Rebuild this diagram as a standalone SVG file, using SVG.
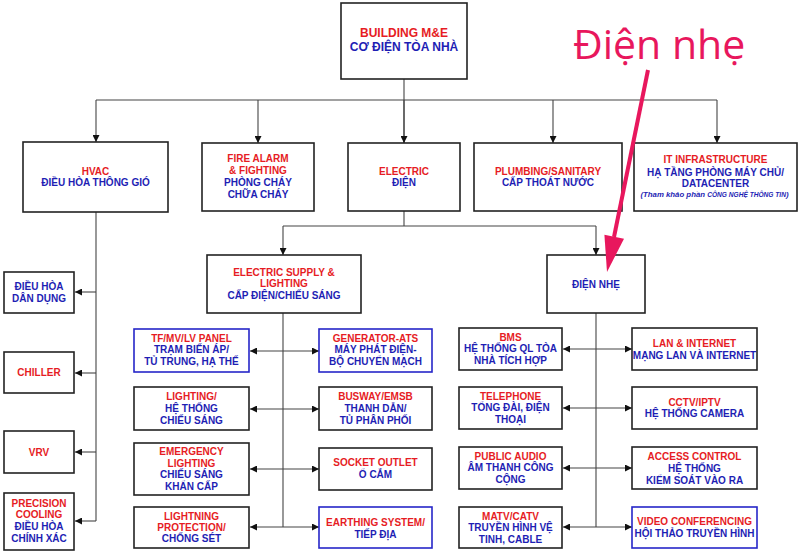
<svg xmlns="http://www.w3.org/2000/svg" width="800" height="553" viewBox="0 0 800 553">
<defs>
<style>
.box{fill:#fff;stroke:#222;stroke-width:1.6}
.bb{fill:#fff;stroke:#2626c8;stroke-width:1.6}
text{font-family:"Liberation Sans",Arial,sans-serif;font-weight:bold;font-size:10px;text-anchor:middle}
.r{fill:#e61c24}
.b{fill:#1e1eb4}
.big{font-size:12px}
.note{font-style:italic;font-size:7.8px}
.c{fill:none;stroke:#444;stroke-width:1.1}
</style>
<marker id="a" viewBox="0 0 10 10" refX="10" refY="5" markerWidth="7" markerHeight="7" markerUnits="userSpaceOnUse" orient="auto-start-reverse">
<path d="M0 0L10 5L0 10z" fill="#111"/>
</marker>
</defs>
<rect width="800" height="553" fill="#fff"/>

<g id="connectors">
<path class="c" d="M404 79V143"/>
<path class="c" d="M96 100H717"/>
<path class="c" d="M96 100V142" marker-end="url(#a)"/>
<path class="c" d="M258 100V143" marker-end="url(#a)"/>
<path class="c" d="M404 100V143" marker-end="url(#a)"/>
<path class="c" d="M553 100V143" marker-end="url(#a)"/>
<path class="c" d="M717 100V143" marker-end="url(#a)"/>
<path class="c" d="M96 212V521"/>
<path class="c" d="M96 292H75" marker-end="url(#a)"/>
<path class="c" d="M96 373H75" marker-end="url(#a)"/>
<path class="c" d="M96 452H75" marker-end="url(#a)"/>
<path class="c" d="M96 521H75" marker-end="url(#a)"/>
<path class="c" d="M404 211V226"/>
<path class="c" d="M283 226H596"/>
<path class="c" d="M283 226V255" marker-end="url(#a)"/>
<path class="c" d="M596 226V255" marker-end="url(#a)"/>
<path class="c" d="M283 313V527"/>
<path class="c" d="M250 351H319" marker-start="url(#a)" marker-end="url(#a)"/>
<path class="c" d="M250 409H319" marker-start="url(#a)" marker-end="url(#a)"/>
<path class="c" d="M250 469H319" marker-start="url(#a)" marker-end="url(#a)"/>
<path class="c" d="M250 527H319" marker-start="url(#a)" marker-end="url(#a)"/>
<path class="c" d="M596 313V527"/>
<path class="c" d="M563 349H632" marker-start="url(#a)" marker-end="url(#a)"/>
<path class="c" d="M563 408H632" marker-start="url(#a)" marker-end="url(#a)"/>
<path class="c" d="M563 468H632" marker-start="url(#a)" marker-end="url(#a)"/>
<path class="c" d="M563 527H632" marker-start="url(#a)" marker-end="url(#a)"/>
</g>

<g id="building">
<rect class="box" x="341" y="3" width="126" height="76"/>
<text class="r big" x="404" y="37">BUILDING M&amp;E</text>
<text class="b big" x="404" y="51">CƠ ĐIỆN TÒA NHÀ</text>
</g>

<g id="hvac">
<rect class="box" x="23" y="142" width="145" height="70"/>
<text class="r" x="95.5" y="175">HVAC</text>
<text class="b" x="95.5" y="186">ĐIỀU HÒA THÔNG GIÓ</text>
</g>
<g id="fire">
<rect class="box" x="202" y="143" width="112" height="68"/>
<text class="r" x="258" y="162">FIRE ALARM</text>
<text class="r" x="258" y="174">&amp; FIGHTING</text>
<text class="b" x="258" y="186">PHÒNG CHÁY</text>
<text class="b" x="258" y="198">CHỮA CHÁY</text>
</g>
<g id="electric">
<rect class="box" x="348" y="143" width="112" height="68"/>
<text class="r" x="404" y="175">ELECTRIC</text>
<text class="b" x="404" y="186">ĐIỆN</text>
</g>
<g id="plumbing">
<rect class="box" x="474" y="143" width="148" height="68"/>
<text class="r" x="548" y="175">PLUMBING/SANITARY</text>
<text class="b" x="548" y="186">CẤP THOÁT NƯỚC</text>
</g>
<g id="it">
<rect class="box" x="634" y="143" width="163" height="68"/>
<text class="r" x="715.5" y="163">IT INFRASTRUCTURE</text>
<text class="b" x="715.5" y="176">HẠ TẦNG PHÒNG MÁY CHỦ/</text>
<text class="b" x="715.5" y="187">DATACENTER</text>
<text class="b note" x="714.5" y="197">(Tham khảo phần <tspan style="font-size:6.6px">CÔNG NGHỆ THÔNG TIN</tspan>)</text>
</g>

<g id="dieuhoa-dandung">
<rect class="box" x="4" y="272" width="70" height="41"/>
<text class="b" x="39" y="290">ĐIỀU HÒA</text>
<text class="b" x="39" y="302">DÂN DỤNG</text>
</g>
<g id="chiller">
<rect class="box" x="4" y="352" width="70" height="41"/>
<text class="r" x="39" y="376">CHILLER</text>
</g>
<g id="vrv">
<rect class="box" x="4" y="431" width="70" height="42"/>
<text class="r" x="39" y="456">VRV</text>
</g>
<g id="precision">
<rect class="box" x="4" y="493" width="70" height="57"/>
<text class="r" x="39" y="507">PRECISION</text>
<text class="r" x="39" y="518">COOLING</text>
<text class="b" x="39" y="530">ĐIỀU HÒA</text>
<text class="b" x="39" y="542">CHÍNH XÁC</text>
</g>

<g id="esl">
<rect class="box" x="207" y="255" width="154" height="58"/>
<text class="r" x="284" y="276">ELECTRIC SUPPLY &amp;</text>
<text class="r" x="284" y="287">LIGHTING</text>
<text class="b" x="284" y="299">CẤP ĐIỆN/CHIẾU SÁNG</text>
</g>
<g id="diennhe">
<rect class="box" x="547" y="255" width="98" height="58"/>
<text class="b" x="596" y="288">ĐIỆN NHẸ</text>
</g>

<g id="tf">
<rect class="bb" x="134" y="329" width="115" height="43"/>
<text class="r" x="191.5" y="342">TF/MV/LV PANEL</text>
<text class="b" x="191.5" y="353">TRẠM BIẾN ÁP/</text>
<text class="b" x="191.5" y="365">TỦ TRUNG, HẠ THẾ</text>
</g>
<g id="lighting">
<rect class="box" x="134" y="387" width="115" height="43"/>
<text class="r" x="191.5" y="400">LIGHTING/</text>
<text class="b" x="191.5" y="412">HỆ THỐNG</text>
<text class="b" x="191.5" y="424">CHIẾU SÁNG</text>
</g>
<g id="emergency">
<rect class="box" x="134" y="443" width="115" height="52"/>
<text class="r" x="191.5" y="455">EMERGENCY</text>
<text class="r" x="191.5" y="467">LIGHTING</text>
<text class="b" x="191.5" y="478">CHIẾU SÁNG</text>
<text class="b" x="191.5" y="490">KHẨN CẤP</text>
</g>
<g id="lightning">
<rect class="box" x="134" y="507" width="115" height="41"/>
<text class="r" x="191.5" y="520">LIGHTNING</text>
<text class="r" x="191.5" y="531">PROTECTION/</text>
<text class="b" x="191.5" y="542">CHỐNG SÉT</text>
</g>
<g id="generator">
<rect class="bb" x="319" y="329" width="113" height="43"/>
<text class="r" x="375.5" y="342">GENERATOR-ATS</text>
<text class="b" x="375.5" y="353">MÁY PHÁT ĐIỆN-</text>
<text class="b" x="375.5" y="365">BỘ CHUYỂN MẠCH</text>
</g>
<g id="busway">
<rect class="box" x="319" y="387" width="113" height="43"/>
<text class="r" x="375.5" y="400">BUSWAY/EMSB</text>
<text class="b" x="375.5" y="412">THANH DẪN/</text>
<text class="b" x="375.5" y="424">TỦ PHÂN PHỐI</text>
</g>
<g id="socket">
<rect class="box" x="319" y="448" width="113" height="42"/>
<text class="r" x="375.5" y="466">SOCKET OUTLET</text>
<text class="b" x="375.5" y="478">Ổ CẮM</text>
</g>
<g id="earthing">
<rect class="bb" x="319" y="507" width="113" height="41"/>
<text class="r" x="375.5" y="526">EARTHING SYSTEM/</text>
<text class="b" x="375.5" y="538">TIẾP ĐỊA</text>
</g>

<g id="bms">
<rect class="box" x="459" y="328" width="103" height="42"/>
<text class="r" x="510.5" y="341">BMS</text>
<text class="b" x="510.5" y="352">HỆ THỐNG QL TÒA</text>
<text class="b" x="510.5" y="364">NHÀ TÍCH HỢP</text>
</g>
<g id="telephone">
<rect class="box" x="459" y="387" width="103" height="42"/>
<text class="r" x="510.5" y="400">TELEPHONE</text>
<text class="b" x="510.5" y="411">TỔNG ĐÀI, ĐIỆN</text>
<text class="b" x="510.5" y="423">THOẠI</text>
</g>
<g id="audio">
<rect class="box" x="459" y="447" width="103" height="42"/>
<text class="r" x="510.5" y="460">PUBLIC AUDIO</text>
<text class="b" x="510.5" y="471">ÂM THANH CÔNG</text>
<text class="b" x="510.5" y="483">CỘNG</text>
</g>
<g id="matv">
<rect class="box" x="459" y="507" width="103" height="41"/>
<text class="r" x="510.5" y="520">MATV/CATV</text>
<text class="b" x="510.5" y="531">TRUYỀN HÌNH VỆ</text>
<text class="b" x="510.5" y="543">TINH, CABLE</text>
</g>
<g id="lan">
<rect class="box" x="632" y="328" width="125" height="42"/>
<text class="r" x="694.5" y="347">LAN &amp; INTERNET</text>
<text class="b" x="694.5" y="359">MẠNG LAN VÀ INTERNET</text>
</g>
<g id="cctv">
<rect class="box" x="632" y="387" width="125" height="42"/>
<text class="r" x="694.5" y="406">CCTV/IPTV</text>
<text class="b" x="694.5" y="417">HỆ THỐNG CAMERA</text>
</g>
<g id="access">
<rect class="box" x="632" y="447" width="125" height="42"/>
<text class="r" x="694.5" y="460">ACCESS CONTROL</text>
<text class="b" x="694.5" y="472">HỆ THỐNG</text>
<text class="b" x="694.5" y="484">KIỂM SOÁT VÀO RA</text>
</g>
<g id="video">
<rect class="bb" x="632" y="507" width="125" height="41"/>
<text class="r" x="694.5" y="525">VIDEO CONFERENCING</text>
<text class="b" x="694.5" y="537">HỘI THẢO TRUYỀN HÌNH</text>
</g>

<g id="annotation">
<text x="573" y="59" style="font-family:'Open Sans','Noto Sans',sans-serif;font-weight:normal;font-size:41px;text-anchor:start;fill:#e8175d">Điện nhẹ</text>
<path d="M648 70L614 237" stroke="#e8175d" stroke-width="4" fill="none"/>
<path d="M607 272L604.4 234.7L624 238.7z" fill="#e8175d"/>
</g>
</svg>
